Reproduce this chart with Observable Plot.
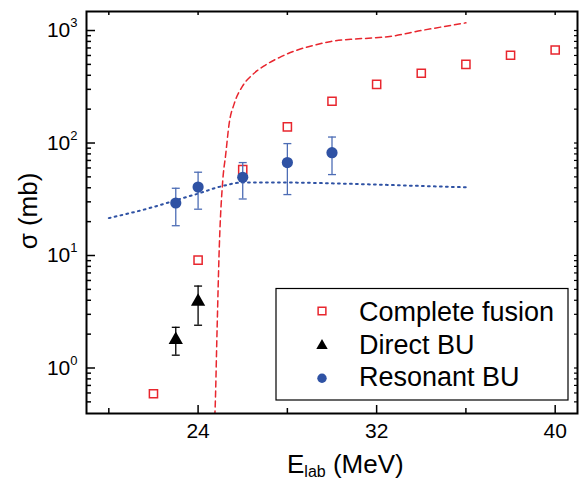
<!DOCTYPE html>
<html><head><meta charset="utf-8">
<script src="https://cdn.jsdelivr.net/npm/d3@7"></script>
<script src="https://cdn.jsdelivr.net/npm/@observablehq/plot@0.6"></script>
<style>body{margin:0;background:#fff} svg{display:block}</style>
</head><body><div id="chart"></div>
<script>
// Complete fusion (open squares)
const cfE = [22, 24, 26, 28, 30, 32, 34, 36, 38, 40];
const cfSigma = [0.59, 9.1, 58, 139, 235, 332, 417, 500, 603, 671];
// Direct BU (triangles)
const dbuE = [23, 24];
const dbuSigma = [1.78, 3.9];
const dbuLo = [1.30, 2.40];
const dbuHi = [2.30, 5.35];
// Resonant BU (circles)
const rbuE = [23, 24, 26, 28, 30];
const rbuSigma = [29.3, 40.6, 49.6, 67, 82];
const rbuLo = [18.4, 25.8, 31.8, 34.8, 52.4];
const rbuHi = [39.6, 55, 67, 98.8, 113];
// Calculated fusion (dashed)
const fusE = [24.72, 24.76, 24.85, 24.95, 25.1, 25.24, 25.39, 25.62, 25.99, 26.44, 26.96, 27.64, 28.39, 29.14, 29.96, 31.0, 31.9, 32.5, 34.0, 36.0];
const fusSigma = [0.3, 0.42, 2.16, 11.9, 45, 80, 148, 224, 320, 405, 485, 575, 665, 735, 800, 840, 860, 880, 1000, 1170];
// Calculated resonant BU (dotted)
const rcE = [20, 22, 23, 24, 25, 26, 28, 30, 32, 34, 36];
const rcSigma = [21.5, 27, 31, 35.5, 41, 44.5, 44.5, 43.8, 42.7, 41.5, 40.4];
// Ticks
const xMajor = [24, 32, 40];
const xMinor = [20, 28, 36];
const yMajor = [1, 10, 100, 1000];
const yMinor = [0.5, 0.6, 0.7, 0.8, 0.9, 2, 3, 4, 5, 6, 7, 8, 9, 20, 30, 40, 50, 60, 70, 80, 90, 200, 300, 400, 500, 600, 700, 800, 900];
const legendLabels = ["Complete fusion", "Direct BU", "Resonant BU"];

const W = 582, H = 480, mL = 86, mR = 5, mT = 11, mB = 67;
const pw = W - mL - mR, ph = H - mT - mB;
const red = "#e8262e", blue = "#2f52a4", blueBar = "#4d6db5";
const font = "Liberation Sans, Arial, Helvetica, sans-serif";
const capSym = {draw(ctx, size) { const w = Math.sqrt(size); ctx.moveTo(-w / 2, 0); ctx.lineTo(w / 2, 0); }};

const cf = cfE.map((e, i) => ({e, s: cfSigma[i]}));
const dbu = dbuE.map((e, i) => ({e, s: dbuSigma[i], lo: dbuLo[i], hi: dbuHi[i]}));
const rbu = rbuE.map((e, i) => ({e, s: rbuSigma[i], lo: rbuLo[i], hi: rbuHi[i]}));
const fus = fusE.map((e, i) => ({e, s: fusSigma[i]}));
const rc = rcE.map((e, i) => ({e, s: rcSigma[i]}));

const plot = Plot.plot({
  width: W, height: H, marginLeft: mL, marginRight: mR, marginTop: mT, marginBottom: mB,
  style: {fontFamily: font, fontSize: "20px", color: "black", background: "white"},
  x: {domain: [19, 41], label: null},
  y: {type: "log", domain: [0.394, 1476], label: null},
  marks: [
    Plot.line(fus, {x: "e", y: "s", stroke: red, strokeWidth: 1.5, strokeDasharray: "6,4", curve: "monotone-x", clip: true}),
    Plot.line(rc, {x: "e", y: "s", stroke: blue, strokeWidth: 2, strokeDasharray: "1.8,4.2", curve: "monotone-x"}),
    Plot.dot(cf, {x: "e", y: "s", symbol: "square", r: 4.6, stroke: red, strokeWidth: 1.5, fill: "none"}),
    Plot.ruleX(dbu, {x: "e", y1: "lo", y2: "hi", stroke: "black", strokeWidth: 1.3}),
    Plot.dot(dbu, {x: "e", y: "lo", symbol: capSym, r: 4.5, stroke: "black", strokeWidth: 1.3, fill: "none"}),
    Plot.dot(dbu, {x: "e", y: "hi", symbol: capSym, r: 4.5, stroke: "black", strokeWidth: 1.3, fill: "none"}),
    Plot.dot(dbu, {x: "e", y: "s", symbol: "triangle", r: 5.3, fill: "black", stroke: "none"}),
    Plot.ruleX(rbu, {x: "e", y1: "lo", y2: "hi", stroke: blueBar, strokeWidth: 1.3}),
    Plot.dot(rbu, {x: "e", y: "lo", symbol: capSym, r: 4.5, stroke: blueBar, strokeWidth: 1.3, fill: "none"}),
    Plot.dot(rbu, {x: "e", y: "hi", symbol: capSym, r: 4.5, stroke: blueBar, strokeWidth: 1.3, fill: "none"}),
    Plot.dot(rbu, {x: "e", y: "s", r: 5.6, fill: blue, stroke: "none"}),
    // ticks (inward)
    Plot.tickX(xMajor, {x: d => d, insetTop: ph - 8, stroke: "black", strokeWidth: 1.5}),
    Plot.tickX(xMinor, {x: d => d, insetTop: ph - 5, stroke: "black", strokeWidth: 1.5}),
    Plot.tickX(xMajor.concat(xMinor), {x: d => d, insetBottom: ph - 4, stroke: "black", strokeWidth: 1.5}),
    Plot.tickY(yMajor, {y: d => d, insetRight: pw - 9, stroke: "black", strokeWidth: 1.5}),
    Plot.tickY(yMinor, {y: d => d, insetRight: pw - 5, stroke: "black", strokeWidth: 1.5}),
    Plot.tickY(yMajor.concat(yMinor), {y: d => d, insetLeft: pw - 3, stroke: "black", strokeWidth: 1.2}),
    Plot.axisY(yMajor, {tickSize: 0, tickPadding: 9, tickFormat: d => "10^" + Math.round(Math.log10(d)), label: null}),
    Plot.axisX(xMajor, {tickSize: 0, tickPadding: 10, label: null}),
    Plot.frame({stroke: "black", strokeWidth: 2})
  ]
});

const svg = d3.select(plot);
svg.selectAll('g[aria-label="y-axis tick label"], g[aria-label="x-axis tick label"]')
  .attr("font-size", 21).style("font-size", "21px");
svg.selectAll('g[aria-label="y-axis tick label"] text').each(function () {
  const parts = this.textContent.split("^");
  const t = d3.select(this);
  t.text(parts[0]);
  t.append("tspan").attr("dy", "-10").style("font-size", "13px").text(parts[1]);
});

// axis labels
svg.append("text")
  .attr("transform", "translate(37,211) rotate(-90)")
  .attr("text-anchor", "middle").attr("font-family", font).style("font-size", "26px").attr("fill", "black")
  .text("σ (mb)");
const xl = svg.append("text").attr("x", 287).attr("y", 473).attr("text-anchor", "start")
  .attr("font-family", font).style("font-size", "26px").attr("fill", "black");
xl.append("tspan").text("E");
xl.append("tspan").style("font-size", "16px").attr("dy", 3.5).text("lab");
xl.append("tspan").attr("dy", -3.5).text(" (MeV)");

// legend
const lg = svg.append("g").attr("text-anchor", "start");
lg.append("rect").attr("x", 276).attr("y", 288.5).attr("width", 292).attr("height", 111.5)
  .attr("fill", "white").attr("stroke", "black").attr("stroke-width", 1.2);
const rowY = [311, 345.6, 378.3];
const baseY = [321, 353.7, 386];
lg.append("path").attr("transform", `translate(322,${rowY[0]})`)
  .attr("d", d3.symbol(d3.symbolSquare, 60)()).attr("fill", "none").attr("stroke", red).attr("stroke-width", 1.5);
lg.append("path").attr("transform", `translate(322,${rowY[1]})`)
  .attr("d", d3.symbol(d3.symbolTriangle, 56)()).attr("fill", "black");
lg.append("circle").attr("cx", 322).attr("cy", rowY[2]).attr("r", 4.7).attr("fill", blue);
legendLabels.forEach((s, i) => {
  lg.append("text").attr("x", 359).attr("y", baseY[i]).attr("text-anchor", "start").attr("font-family", font)
    .style("font-size", "27px").attr("fill", "black").text(s);
});

document.getElementById("chart").appendChild(plot);
</script>
</body></html>
